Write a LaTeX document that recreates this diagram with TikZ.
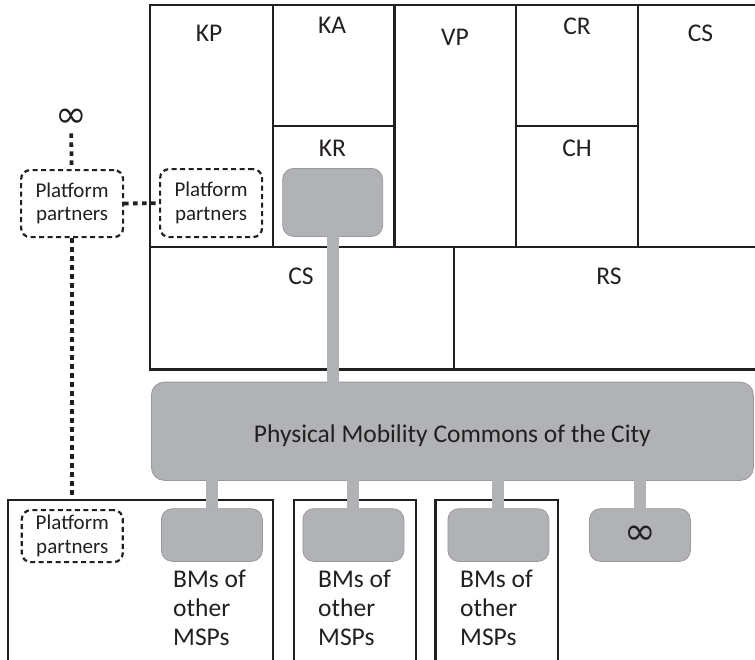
\documentclass[tikz,border=0pt]{standalone}
\usepackage{fontspec}
\setmainfont{Carlito}
\newfontfamily\symfont{DejaVu Sans}
\definecolor{ink}{RGB}{35,31,32}
\definecolor{commonsfill}{RGB}{177,178,181}
\definecolor{commonsedge}{RGB}{152,153,156}
\begin{document}
\begin{tikzpicture}[x=1pt,y=-1pt,
  cellline/.style={draw=ink,line width=2.2pt},
  celltext/.style={font=\fontsize{25.5}{29}\selectfont,text=ink,inner sep=0pt},
  infsign/.style={font=\symfont\fontsize{38}{40}\selectfont,text=ink},
  graybox/.style={draw=commonsedge,line width=0.8pt,fill=commonsfill,
    rounded corners=11pt,inner sep=0pt,minimum width=101pt,minimum height=52.7pt,
    anchor=north west,font=\fontsize{25.5}{29}\selectfont,text=ink},
  mspbox/.style={cellline,inner sep=0pt,minimum height=190pt,anchor=north west},
  partnerbox/.style={draw=ink,line width=2.2pt,dash pattern=on 5pt off 3.5pt,
    rounded corners=9pt,inner sep=0pt,align=center,anchor=north west,
    font=\fontsize{21}{23.5}\selectfont,text=ink},
  commonslink/.style={draw=commonsfill,line width=12pt,
    shorten <=-1pt,shorten >=-1pt},
  partnerlink/.style={draw=ink,line width=3.8pt,dash pattern=on 4.5pt off 4.5pt},
]
\useasboundingbox (0,0) rectangle (755,659);
\clip (0,0) rectangle (755,659);

% business model canvas grid
\draw[cellline] (150,5) rectangle (763,369.5);
\draw[cellline] (272.7,5) -- (272.7,247.3);
\draw[cellline] (394.5,5) -- (394.5,247.3);
\draw[cellline] (516,5) -- (516,247.3);
\draw[cellline] (637.8,5) -- (637.8,247.3);
\draw[cellline] (272.7,126) -- (394.5,126);
\draw[cellline] (516,126) -- (637.8,126);
\draw[cellline] (150,247.3) -- (763,247.3);
\draw[cellline] (454.3,247.3) -- (454.3,369.5);

% canvas block titles
\node[celltext,anchor=base] (kp) at (209,41.7) {KP};
\node[celltext,anchor=base] (ka) at (332,33.3) {KA};
\node[celltext,anchor=base] (vp) at (455,45) {VP};
\node[celltext,anchor=base] (cr) at (577,34) {CR};
\node[celltext,anchor=base] (csa) at (700.5,41.7) {CS};
\node[celltext,anchor=base] (kr) at (332.5,156) {KR};
\node[celltext,anchor=base] (ch) at (577,156) {CH};
\node[celltext,anchor=base] (csb) at (301,284) {CS};
\node[celltext,anchor=base] (rs) at (609,284) {RS};

% business models of the other platforms
\node[mspbox,minimum width=265pt] (msp1) at (7,499) {};
\node[mspbox,minimum width=122.3pt] (msp2) at (292.7,499) {};
\node[mspbox,minimum width=122.7pt] (msp3) at (434.3,499) {};
\node[celltext,align=left,anchor=base west] (bm1) at (173,645) {BMs of\\other\\MSPs};
\node[celltext,align=left,anchor=base west] (bm2) at (318,645) {BMs of\\other\\MSPs};
\node[celltext,align=left,anchor=base west] (bm3) at (460,645) {BMs of\\other\\MSPs};

% shared commons and the resources drawn from it
\node[graybox,minimum width=602pt,minimum height=98.3pt,rounded corners=13pt,
  text height=24pt,text depth=2pt] (commons) at (151,381.7)
  {Physical Mobility Commons of the City};
\node[graybox,minimum width=100pt,minimum height=68pt] (krres) at (282.3,168) {};
\node[graybox] (g1) at (161,508.3) {};
\node[graybox] (g2) at (302.5,508.3) {};
\node[graybox] (g3) at (447.5,508.3) {};
\node[graybox,infsign] (gmore) at (589,508.3) {∞};

\draw[commonslink] (krres.south) -- (krres.south |- commons.north);
\foreach \g in {g1,g2,g3,gmore}
  \draw[commonslink] (commons.south -| \g.north) -- (\g.north);

% platform partners
\node[partnerbox,minimum width=102pt,minimum height=67pt] (pp1) at (20,169) {Platform\\partners};
\node[partnerbox,minimum width=102pt,minimum height=68pt] (pp2) at (159,168) {Platform\\partners};
\node[partnerbox,minimum width=101pt,minimum height=52pt] (pp3) at (20.7,509) {Platform\\partners};
\node[infsign,inner sep=6pt] (ppmore) at (71,118) {∞};

\draw[partnerlink] (ppmore) -- (pp1);
\draw[partnerlink] (pp1) -- (pp2);
\draw[partnerlink] (pp1.south) -- (pp1.south |- msp1.north);
\end{tikzpicture}
\end{document}
